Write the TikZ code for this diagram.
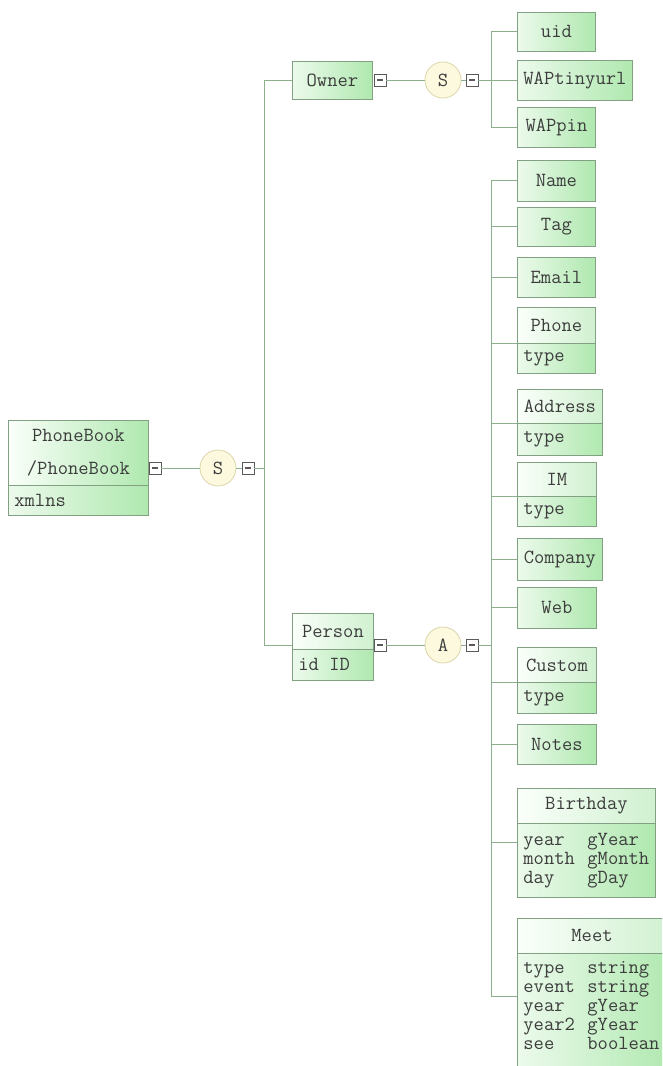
\documentclass[tikz,border=0pt]{standalone}
\usepackage{fontspec}
\definecolor{bgL}{RGB}{236,250,236}
\definecolor{bgR}{RGB}{175,232,175}
\definecolor{hdL}{RGB}{250,255,250}
\definecolor{hdR}{RGB}{208,240,208}
\definecolor{bord}{RGB}{130,160,130}
\definecolor{ln}{RGB}{140,175,140}
\definecolor{txt}{RGB}{60,60,60}
\definecolor{togc}{RGB}{90,90,90}
\definecolor{cirF}{RGB}{252,249,222}
\definecolor{cirB}{RGB}{220,214,170}
\newcommand{\col}[2]{\makebox[64pt][l]{#1}#2}
\begin{document}
\begin{tikzpicture}[x=1pt,y=-1pt,
  every node/.style={font=\ttfamily\fontsize{20}{19}\selectfont, text=txt},
  box/.style={draw=bord, line width=0.8pt, left color=bgL, right color=bgR, anchor=north west, inner sep=0pt, align=center},
  head/.style={box, left color=hdL, right color=hdR},
  attr/.style={box, align=left, inner xsep=6pt},
  conn/.style={draw=ln, line width=0.9pt},
  tog/.style={draw=togc, fill=white, minimum size=12pt, inner sep=0pt, line width=0.8pt,
    path picture={\draw[togc, line width=1.6pt] ([xshift=-3pt]path picture bounding box.center) -- ([xshift=3pt]path picture bounding box.center);}},
  comp/.style={circle, draw=cirB, fill=cirF, minimum size=36pt, inner sep=0pt, line width=0.8pt}]
\useasboundingbox (0,0) rectangle (662,1066);
\clip (0,0) rectangle (662,1066);
\fill[white] (0,0) rectangle (662,1066);

% root
\node[box, minimum width=140, minimum height=65, left color=hdL, right color=bgR] (pb) at (8,420) {PhoneBook\\[14pt]/PhoneBook};
\node[attr, text width=128, minimum height=30] (pbx) at (8,485) {xmlns};
\node[tog] (t1) at (155,468) {};
\node[comp] (s1) at (218,468) {S};
\node[tog] (t2) at (248,468) {};
\coordinate (b1x) at (264,0);

% owner
\node[box, minimum width=80, minimum height=38] (owner) at (292,61) {Owner};
\node[tog] (t3) at (380,80) {};
\node[comp] (s2) at (443,80) {S};
\node[tog] (t4) at (472,80) {};
\coordinate (b2x) at (491,0);
\node[box, minimum width=78, minimum height=39] (uid) at (517,12) {uid};
\node[box, minimum width=115, minimum height=40] (wapt) at (517,60) {WAPtinyurl};
\node[box, minimum width=78, minimum height=40] (wapp) at (517,107) {WAPpin};

% person
\node[head, minimum width=81, minimum height=36] (person) at (292,613) {Person};
\node[attr, text width=69, minimum height=31] (personid) at (292,649) {\makebox[31pt][l]{id}ID};
\coordinate (pconn) at ([yshift=4pt]person.south west);
\node[tog] (t5) at (380,645) {};
\node[comp] (a1) at (443,645) {A};
\node[tog] (t6) at (472,645) {};
\coordinate (b3x) at (491,0);

% person children
\node[box, minimum width=78, minimum height=41] (name) at (517,160) {Name};
\node[box, minimum width=78, minimum height=39] (tag) at (517,207) {Tag};
\node[box, minimum width=78, minimum height=40] (email) at (517,257) {Email};
\node[head, minimum width=78, minimum height=36] (phone) at (517,307) {Phone};
\node[attr, text width=66, minimum height=30] (phonet) at (517,343) {type};
\node[head, minimum width=85, minimum height=34] (address) at (517,389) {Address};
\node[attr, text width=73, minimum height=32] (addresst) at (517,423) {type};
\node[head, minimum width=79, minimum height=34] (im) at (517,462) {IM};
\node[attr, text width=67, minimum height=30] (imt) at (517,496) {type};
\node[box, minimum width=85, minimum height=42] (company) at (517,538) {Company};
\node[box, minimum width=79, minimum height=41] (web) at (517,587) {Web};
\node[head, minimum width=79, minimum height=35] (custom) at (517,647) {Custom};
\node[attr, text width=67, minimum height=31] (customt) at (517,682) {type};
\node[box, minimum width=79, minimum height=40] (notes) at (517,724) {Notes};
\node[head, minimum width=138, minimum height=35] (bday) at (517,788) {Birthday};
\node[attr, text width=126, minimum height=74] (bdayt) at (517,823) {\col{year}{gYear}\\\col{month}{gMonth}\\\col{day}{gDay}};
\node[head, minimum width=156, minimum height=35, align=left, text width=136] (meet) at (517,918) {\hspace*{44pt}Meet};
\node[attr, text width=144, inner ysep=8pt] (meett) at (517,953) {\col{type}{string}\\\col{event}{string}\\\col{year}{gYear}\\\col{year2}{gYear}\\\col{see}{boolean}\\\mbox{}};
\coordinate (bdayc) at ([yshift=-19pt]bdayt.north west);
\coordinate (meetc) at ([yshift=-43pt]meett.north west);

% connectors root
\draw[conn] (t1) -- (s1);
\draw[conn] (s1) -- (t2);
\draw[conn] (t2) -- (t2 -| b1x);
\draw[conn] (owner.west -| b1x) -- (pconn -| b1x);
\draw[conn] (owner.west -| b1x) -- (owner.west);
\draw[conn] (pconn -| b1x) -- (pconn);

% owner connectors
\draw[conn] (t3) -- (s2);
\draw[conn] (s2) -- (t4);
\draw[conn] (t4) -- (t4 -| b2x);
\draw[conn] (uid.west -| b2x) -- (wapp.west -| b2x);
\draw[conn] (uid.west -| b2x) -- (uid.west);
\draw[conn] (wapt.west -| b2x) -- (wapt.west);
\draw[conn] (wapp.west -| b2x) -- (wapp.west);

% person connectors
\draw[conn] (t5) -- (a1);
\draw[conn] (a1) -- (t6);
\draw[conn] (t6) -- (t6 -| b3x);
\draw[conn] (name.west -| b3x) -- (meetc -| b3x);
\foreach \n in {name,tag,email,company,web,notes}
  \draw[conn] (\n.west -| b3x) -- (\n.west);
\foreach \n in {phone,address,im,custom}
  \draw[conn] (\n.south west -| b3x) -- (\n.south west);
\draw[conn] (bdayc -| b3x) -- (bdayc);
\draw[conn] (meetc -| b3x) -- (meetc);
\end{tikzpicture}
\end{document}
